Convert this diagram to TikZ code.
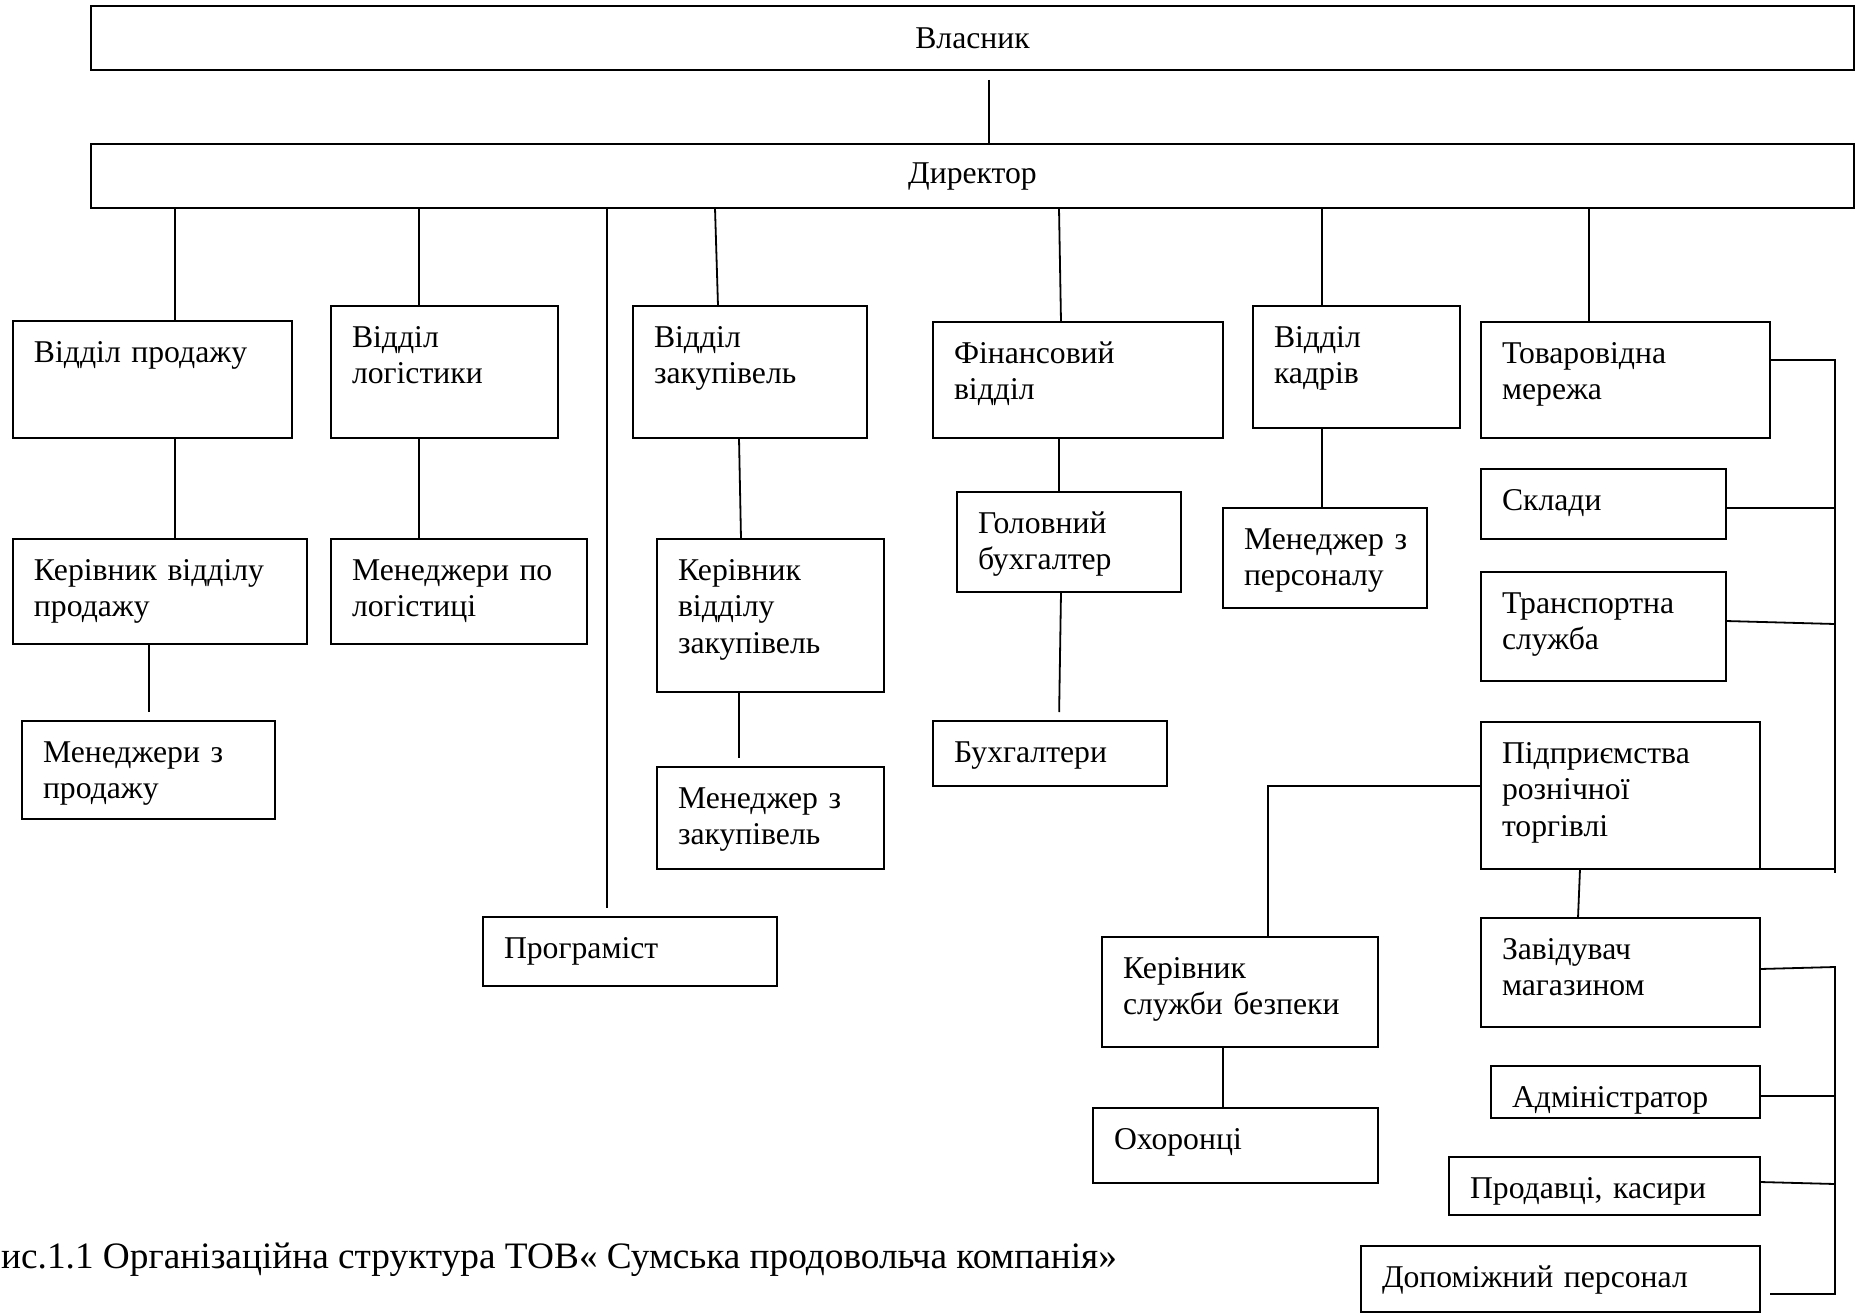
\documentclass[tikz,border=0pt]{standalone}
\usepackage{fontspec}
\setmainfont{Liberation Serif}

\begin{document}
\begin{tikzpicture}[
    x=1pt, y=-1pt,
    font=\fontsize{31.7}{36.5}\selectfont,
    head/.style={rectangle, draw, line width=2.6pt, minimum width=1763pt, minimum height=64pt, inner sep=0pt, outer sep=0pt, anchor=north west},
    unit/.style={rectangle, draw, line width=2.6pt, inner xsep=21pt, inner ysep=0pt, outer sep=0pt, anchor=north west, align=left, text height=41pt},
    link/.style={line width=1.8pt},
    caption/.style={anchor=base west, inner sep=0pt, font=\fontsize{37.3}{43}\selectfont}
]
    \useasboundingbox (0,0) rectangle (1858,1314);

    % Top
    \node[head] (owner) at (91,6) {Власник};
    \node[head] (director) at (91,144) {Директор};

    % Departments
    \node[unit, text width=237pt, text depth=76pt] (sales) at (13,321) {Відділ~продажу};
    \node[unit, text width=185pt, text depth=91pt] (logist) at (331,306) {Відділ\\логістики};
    \node[unit, text width=192pt, text depth=91pt] (purch) at (633,306) {Відділ\\закупівель};
    \node[unit, text width=248pt, text depth=75pt] (fin) at (933,322) {Фінансовий\\відділ};
    \node[unit, text width=165pt, text depth=81pt] (hr) at (1253,306) {Відділ\\кадрів};
    \node[unit, text width=247pt, text depth=75pt] (retail) at (1481,322) {Товаровідна\\мережа};

    % Second level
    \node[unit, text width=252pt, text depth=64pt] (salesHead) at (13,539) {Керівник~відділу\\продажу};
    \node[unit, text width=214pt, text depth=64pt] (logMgr) at (331,539) {Менеджери~по\\логістиці};
    \node[unit, text width=185pt, text depth=112pt] (purchHead) at (657,539) {Керівник\\відділу\\закупівель};
    \node[unit, text width=182pt, text depth=59pt] (finHead) at (957,492) {Головний\\бухгалтер};
    \node[unit, text width=162pt, text depth=59pt] (hrMgr) at (1223,508) {Менеджер~з\\персоналу};
    \node[unit, text width=203pt, text depth=29pt] (warehouse) at (1481,469) {Склади};
    \node[unit, text width=203pt, text depth=68pt] (transport) at (1481,572) {Транспортна\\служба};
    \node[unit, text width=237pt, text depth=106pt] (retailEnt) at (1481,722) {Підприємства\\рознічної\\торгівлі};

    % Third level
    \node[unit, text width=211pt, text depth=57pt] (salesMgr) at (22,721) {Менеджери~з\\продажу};
    \node[unit, text width=185pt, text depth=61pt] (purchMgr) at (657,767) {Менеджер~з\\закупівель};
    \node[unit, text width=192pt, text depth=24pt] (accountants) at (933,721) {Бухгалтери};
    \node[unit, text width=252pt, text depth=28pt] (prog) at (483,917) {Програміст};

    % Retail staff
    \node[unit, text width=234pt, text depth=69pt] (secHead) at (1102,937) {Керівник\\служби~безпеки};
    \node[unit, text width=243pt, text depth=34pt] (guards) at (1093,1108) {Охоронці};
    \node[unit, text width=237pt, text depth=68pt] (storeHead) at (1481,918) {Завідувач\\магазином};
    \node[unit, text width=227pt, text depth=11pt] (admin) at (1491,1066) {Адміністратор};
    \node[unit, text width=269pt, text depth=17pt] (sellers) at (1449,1157) {Продавці,~касири};
    \node[unit, text width=357pt, text depth=25pt] (support) at (1361,1246) {Допоміжний~персонал};

    % Caption
    \node[caption] (caption) at (1,1268) {ис.1.1 Організаційна структура ТОВ« Сумська продовольча компанія»};

    % Owner to director
    \draw[link, shorten <=10pt] (owner.south -| 989,0) -- (director.north -| 989,0);

    % Director to departments
    \draw[link] (director.south -| 175,0) -- (sales.north -| 175,0);
    \draw[link] (director.south -| 419,0) -- (logist.north -| 419,0);
    \draw[link, shorten >=9pt] (director.south -| 607,0) -- (prog.north -| 607,0);
    \draw[link] (director.south -| 715,0) -- (purch.north -| 718,0);
    \draw[link] (director.south -| 1059,0) -- (fin.north -| 1061,0);
    \draw[link] (director.south -| 1322,0) -- (hr.north -| 1322,0);
    \draw[link] (director.south -| 1589,0) -- (retail.north -| 1589,0);

    % Departments to staff
    \draw[link] (sales.south -| 175,0) -- (salesHead.north -| 175,0);
    \draw[link] (logist.south -| 419,0) -- (logMgr.north -| 419,0);
    \draw[link] (purch.south -| 739,0) -- (purchHead.north -| 741,0);
    \draw[link] (fin.south -| 1059,0) -- (finHead.north -| 1059,0);
    \draw[link] (hr.south -| 1322,0) -- (hrMgr.north -| 1322,0);
    \draw[link, shorten >=9pt] (salesHead.south -| 149,0) -- (salesMgr.north -| 149,0);
    \draw[link, shorten >=9pt] (purchHead.south -| 739,0) -- (purchMgr.north -| 739,0);
    \draw[link, shorten >=9pt] (finHead.south -| 1061,0) -- (accountants.north -| 1059,0);

    % Trade network
    \coordinate (busA) at (1835,360);
    \coordinate (busB) at (1835,873);
    \draw[link] (retail.east |- busA) -- (busA) -- (busB);
    \draw[link] (warehouse.east |- 0,508) -- (busA |- 0,508);
    \draw[link] (transport.east |- 0,621) -- (busA |- 0,624);
    \draw[link] (retailEnt.south east) -- (retailEnt.south east -| busA);

    % Retail enterprises
    \draw[link] (retailEnt.west |- 0,786) -| (secHead.north -| 1268,0);
    \draw[link] (secHead.south -| 1223,0) -- (guards.north -| 1223,0);
    \draw[link] (retailEnt.south -| 1580,0) -- (storeHead.north -| 1578,0);

    % Store staff
    \coordinate (busC) at (1835,967);
    \coordinate (busD) at (1835,1294);
    \draw[link, shorten >=10pt] (storeHead.east |- 0,969) -- (busC) -- (busD) -- (support.east |- busD);
    \draw[link] (admin.east |- 0,1096) -- (busC |- 0,1096);
    \draw[link] (sellers.east |- 0,1182) -- (busC |- 0,1184);

\end{tikzpicture}
\end{document}
